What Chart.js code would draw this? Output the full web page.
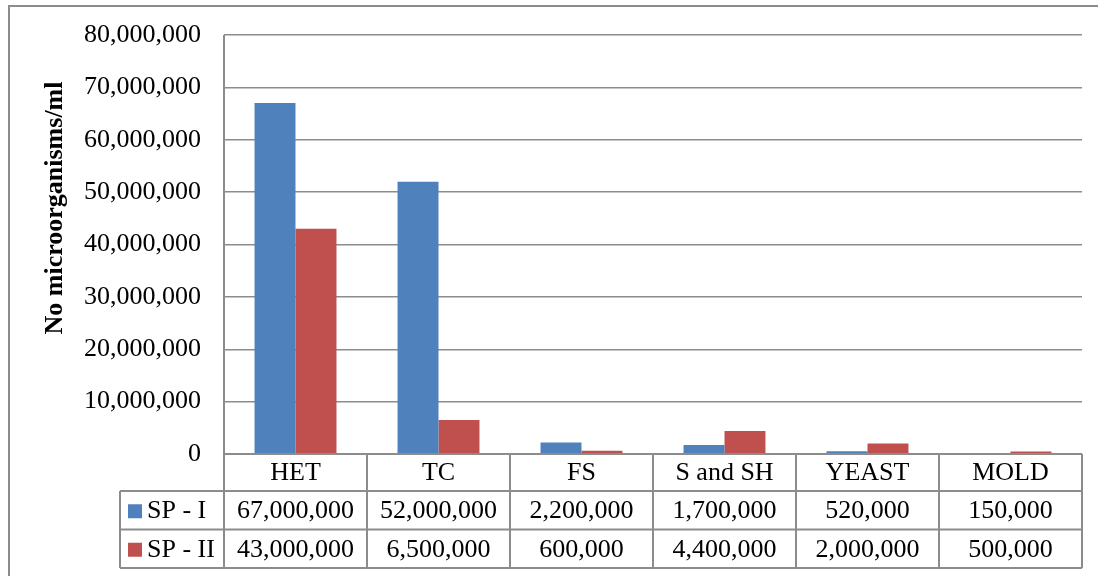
<!DOCTYPE html>
<html>
<head>
<meta charset="utf-8">
<script src="https://cdn.jsdelivr.net/npm/chart.js@4.4.1/dist/chart.umd.min.js"></script>
<style>
  html, body { margin: 0; padding: 0; background: #fff; }
  #wrap { width: 1098px; height: 576px; position: relative; }
</style>
</head>
<body>
<div id="wrap"><canvas id="c" width="1098" height="576"></canvas></div>
<script>
const categories = ['HET', 'TC', 'FS', 'S and SH', 'YEAST', 'MOLD'];
const seriesNames = ['SP - I', 'SP - II'];
const sp1 = [67000000, 52000000, 2200000, 1700000, 520000, 150000];
const sp2 = [43000000, 6500000, 600000, 4400000, 2000000, 500000];
const colors = ['#4F81BD', '#C0504D'];
const yTitle = 'No microorganisms/ml';

const FONT = '"Liberation Serif", "Times New Roman", serif';
const LINE = '#8c8c8c';

const fmt = v => v.toLocaleString('en-US');

const tablePlugin = {
  id: 'dataTable',
  afterDraw(chart) {
    const ctx = chart.ctx;
    const area = chart.chartArea;
    const xs = chart.scales.x;
    const n = categories.length;
    const colW = (area.right - area.left) / n;
    const rowH = [37, 38.5, 38.5];
    const y0 = area.bottom;
    const y1 = y0 + rowH[0];
    const y2 = y1 + rowH[1];
    const y3 = y2 + rowH[2];
    const legLeft = 120;

    ctx.save();
    // outer border (left and top visible)
    ctx.strokeStyle = LINE;
    ctx.lineWidth = 2;
    ctx.beginPath();
    ctx.moveTo(9, 576); ctx.lineTo(9, 6); ctx.lineTo(1098, 6);
    ctx.stroke();

    // table lines
    ctx.lineWidth = 2;
    ctx.beginPath();
    ctx.moveTo(area.left, area.top); ctx.lineTo(area.left, y3);
    ctx.moveTo(area.left, y0); ctx.lineTo(area.right, y0);
    [y1, y2, y3].forEach(y => { ctx.moveTo(legLeft, y); ctx.lineTo(area.right, y); });
    ctx.moveTo(legLeft, y1); ctx.lineTo(legLeft, y3);
    for (let i = 1; i <= n; i++) {
      const x = area.left + colW * i;
      ctx.moveTo(x, y0); ctx.lineTo(x, y3);
    }
    ctx.stroke();

    // text
    ctx.fillStyle = '#000';
    ctx.font = '26px ' + FONT;
    ctx.textAlign = 'center';
    ctx.textBaseline = 'middle';
    const series = [sp1, sp2];
    categories.forEach((c, i) => {
      const cx = xs.getPixelForValue(i);
      ctx.fillText(c, cx, (y0 + y1) / 2 + 1);
      ctx.fillText(fmt(series[0][i]), cx, (y1 + y2) / 2 + 1);
      ctx.fillText(fmt(series[1][i]), cx, (y2 + y3) / 2 + 1);
    });

    // legend keys
    ctx.textAlign = 'left';
    seriesNames.forEach((s, k) => {
      const ym = k === 0 ? (y1 + y2) / 2 : (y2 + y3) / 2;
      ctx.fillStyle = colors[k];
      ctx.fillRect(128, ym - 6, 14, 14);
      ctx.fillStyle = '#000';
      ctx.fillText(s, 147, ym + 1);
    });

    // y-axis title
    ctx.save();
    ctx.translate(55, 208);
    ctx.rotate(-Math.PI / 2);
    ctx.textAlign = 'center';
    ctx.textBaseline = 'middle';
    ctx.font = 'bold 26px ' + FONT;
    ctx.fillText(yTitle, 0, 0);
    ctx.restore();

    ctx.restore();
  }
};

new Chart(document.getElementById('c'), {
  type: 'bar',
  data: {
    labels: categories,
    datasets: [
      { label: seriesNames[0], data: sp1, backgroundColor: colors[0], borderWidth: 0 },
      { label: seriesNames[1], data: sp2, backgroundColor: colors[1], borderWidth: 0 }
    ]
  },
  options: {
    responsive: false,
    animation: false,
    devicePixelRatio: 1,
    categoryPercentage: 0.573,
    barPercentage: 1.0,
    layout: { padding: { left: 0, top: 35, right: 16, bottom: 122 } },
    plugins: {
      legend: { display: false },
      tooltip: { enabled: false },
      title: { display: false }
    },
    scales: {
      x: {
        display: false,
        grid: { display: false }
      },
      y: {
        min: 0,
        max: 80000000,
        afterFit(scale) {
          scale.width = 224;
          scale.paddingTop = 0;
          scale.paddingBottom = 0;
        },
        border: { display: false },
        grid: { color: LINE, lineWidth: 1.5, drawTicks: false },
        ticks: {
          stepSize: 10000000,
          padding: 23,
          color: '#000',
          font: { family: FONT, size: 26 },
          callback: v => fmt(v)
        }
      }
    }
  },
  plugins: [tablePlugin]
});
</script>
</body>
</html>
